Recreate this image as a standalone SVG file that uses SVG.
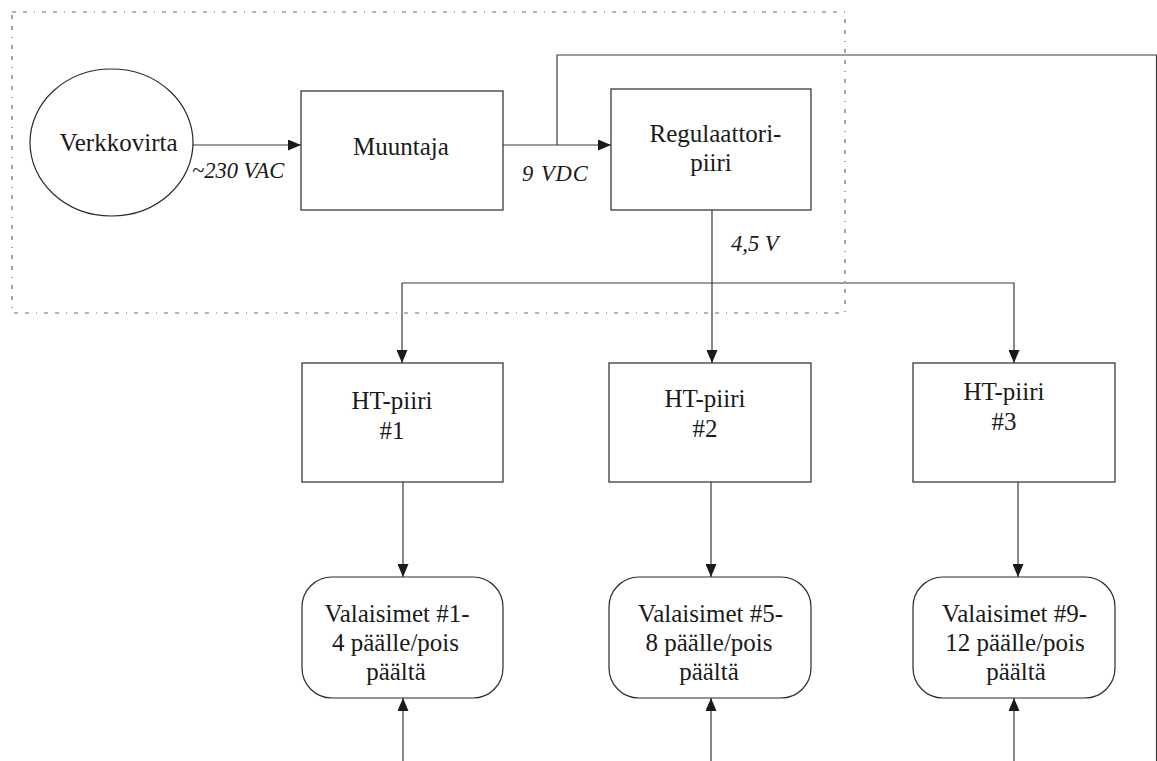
<svg xmlns="http://www.w3.org/2000/svg" width="1157" height="761" viewBox="0 0 1157 761">
  <style>
    .box { fill: #ffffff; stroke: #2a2a2a; stroke-width: 1.2; }
    .wire { fill: none; stroke: #3a3a3a; stroke-width: 1.2; }
    .frame { fill: none; stroke: #6a6a6a; stroke-width: 1.2; stroke-dasharray: 4 7 4 7 1 7; }
    .lbl { font-family: "Liberation Serif", "Times New Roman", serif; font-size: 25px; fill: #1a1a1a; text-anchor: middle; }
    .volt { font-family: "Liberation Serif", "Times New Roman", serif; font-size: 22.5px; font-style: italic; fill: #1a1a1a; }
  </style>
  <defs>
    <marker id="arrow" viewBox="0 0 13 11" refX="13" refY="5.5" markerWidth="13" markerHeight="11" markerUnits="userSpaceOnUse" orient="auto">
      <path d="M0,0 L13,5.5 L0,11 Z" fill="#1a1a1a"/>
    </marker>
  </defs>

  <rect width="1157" height="761" fill="#ffffff"/>

  <!-- power supply section outline -->
  <rect class="frame" x="12" y="12" width="833" height="301"/>

  <!-- connectors -->
  <g id="connectors">
    <line class="wire" x1="193" y1="145" x2="301" y2="145" marker-end="url(#arrow)"/>
    <line class="wire" x1="503" y1="145" x2="611" y2="145" marker-end="url(#arrow)"/>
    <polyline class="wire" points="557,145 557,55 1156.5,55 1156.5,761"/>
    <line class="wire" x1="712" y1="210" x2="712" y2="363" marker-end="url(#arrow)"/>
    <polyline class="wire" points="402,283 1014,283 1014,363" marker-end="url(#arrow)"/>
    <line class="wire" x1="402" y1="283" x2="402" y2="363" marker-end="url(#arrow)"/>
    <line class="wire" x1="403" y1="482" x2="403" y2="577" marker-end="url(#arrow)"/>
    <line class="wire" x1="711" y1="482" x2="711" y2="577" marker-end="url(#arrow)"/>
    <line class="wire" x1="1018" y1="482" x2="1018" y2="577" marker-end="url(#arrow)"/>
    <line class="wire" x1="403" y1="761" x2="403" y2="698" marker-end="url(#arrow)"/>
    <line class="wire" x1="711" y1="761" x2="711" y2="698" marker-end="url(#arrow)"/>
    <line class="wire" x1="1014" y1="761" x2="1014" y2="698" marker-end="url(#arrow)"/>
    <text class="volt" x="192" y="178">~230 VAC</text>
    <text class="volt" x="522" y="181" letter-spacing="1">9 VDC</text>
    <text class="volt" x="731" y="251">4,5 V</text>
  </g>

  <g id="verkkovirta">
    <ellipse class="box" cx="111.5" cy="142.5" rx="81.5" ry="73.5"/>
    <text class="lbl" x="118.5" y="151">Verkkovirta</text>
  </g>

  <g id="muuntaja">
    <rect class="box" x="301" y="91" width="202" height="119"/>
    <text class="lbl" x="401" y="155">Muuntaja</text>
  </g>

  <g id="regulaattori">
    <rect class="box" x="611" y="89" width="200" height="121"/>
    <text class="lbl" x="715.5" y="142">Regulaattori-</text>
    <text class="lbl" x="711" y="170.5">piiri</text>
  </g>

  <g id="ht1">
    <rect class="box" x="302" y="363" width="201" height="119"/>
    <text class="lbl" x="392" y="409">HT-piiri</text>
    <text class="lbl" x="392" y="439">#1</text>
  </g>

  <g id="ht2">
    <rect class="box" x="609" y="363" width="202" height="119"/>
    <text class="lbl" x="705" y="407">HT-piiri</text>
    <text class="lbl" x="705" y="437">#2</text>
  </g>

  <g id="ht3">
    <rect class="box" x="913" y="363" width="202" height="119"/>
    <text class="lbl" x="1004" y="400">HT-piiri</text>
    <text class="lbl" x="1004" y="430">#3</text>
  </g>

  <g id="valaisimet1">
    <rect class="box" x="302" y="577" width="201" height="121" rx="30" ry="30"/>
    <text class="lbl" x="397" y="622">Valaisimet #1-</text>
    <text class="lbl" x="395.5" y="651">4 päälle/pois</text>
    <text class="lbl" x="396" y="680">päältä</text>
  </g>

  <g id="valaisimet2">
    <rect class="box" x="609" y="577" width="202" height="121" rx="30" ry="30"/>
    <text class="lbl" x="710.5" y="622">Valaisimet #5-</text>
    <text class="lbl" x="709" y="651">8 päälle/pois</text>
    <text class="lbl" x="709" y="680">päältä</text>
  </g>

  <g id="valaisimet3">
    <rect class="box" x="913" y="577" width="202" height="121" rx="30" ry="30"/>
    <text class="lbl" x="1014.5" y="622">Valaisimet #9-</text>
    <text class="lbl" x="1015" y="651">12 päälle/pois</text>
    <text class="lbl" x="1016" y="680">päältä</text>
  </g>
</svg>
